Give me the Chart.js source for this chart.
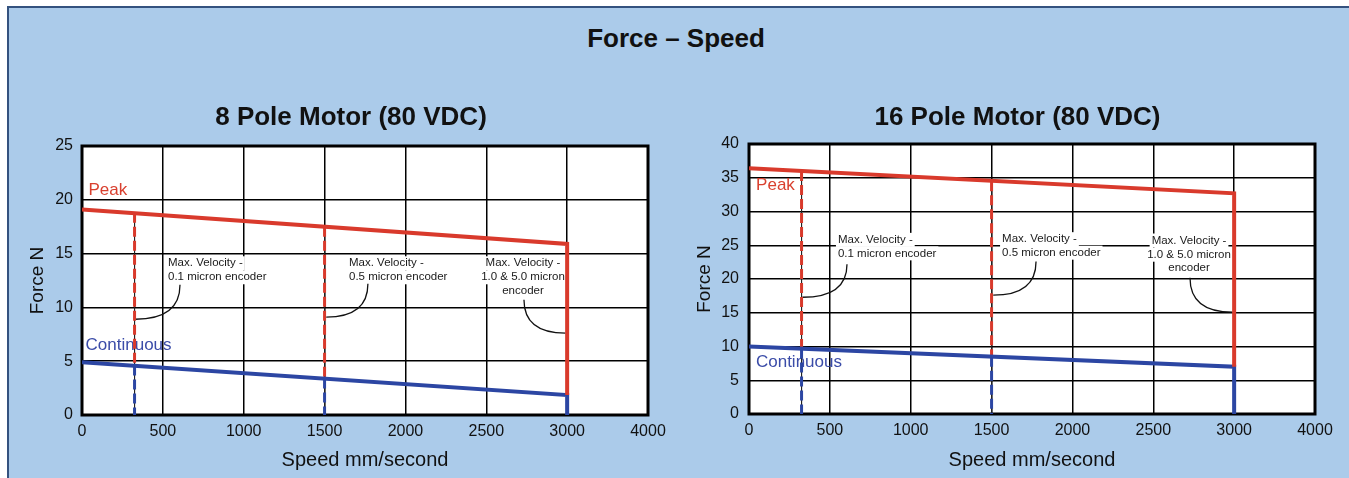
<!DOCTYPE html>
<html>
<head>
<meta charset="utf-8">
<script src="https://cdn.jsdelivr.net/npm/chart.js@4.4.1/dist/chart.umd.min.js"></script>
<style>
  html, body { margin: 0; padding: 0; background: #ffffff; width: 1349px; height: 478px; overflow: hidden; }
  #frame { position: absolute; left: 7px; top: 6px; width: 1342px; height: 472px; box-sizing: border-box;
           background: #abcbea; border-left: 2px solid #34527f; border-top: 2px solid #34527f; }
  #mainTitle { position: absolute; left: 0; width: 1352px; top: 23px; line-height: 30px; text-align: center;
               font: bold 26px "Liberation Sans", Arial, sans-serif; color: #111; }
  canvas { position: absolute; }
  #c8 { left: 0px; top: 90px; }
  #c16 { left: 668px; top: 90px; }
</style>
</head>
<body>
<div id="frame"></div>
<div id="mainTitle">Force – Speed</div>
<canvas id="c8" width="680" height="388"></canvas>
<canvas id="c16" width="681" height="388"></canvas>
<script>
// ---------- data ----------
const speedTickLabels = ['0', '500', '1000', '1500', '2000', '2500', '3000', '4000'];
const lineSpeeds = [0, 3000];                 // start / end of force curves (mm/s)
const limitSpeeds = [325, 1500, 3000];        // max velocity for 0.1, 0.5, 1.0&5.0 micron encoders
const pole8Peak = [19.1, 15.9];
const pole8Continuous = [4.9, 1.85];
const pole8PeakAtLimit = [18.8, 17.5];
const pole8ContAtLimit = [4.6, 3.4];
const pole16Peak = [36.4, 32.7];
const pole16Continuous = [10.0, 7.0];
const pole16PeakAtLimit = [36.0, 34.5];
const pole16ContAtLimit = [9.7, 8.5];
const encoderNotes = [
  ['Max. Velocity -', '0.1 micron encoder'],
  ['Max. Velocity -', '0.5 micron encoder'],
  ['Max. Velocity -', '1.0 & 5.0 micron', 'encoder']
];

const RED = '#d93a2c';
const BLUE = '#2c46a3';
const FONT = '"Liberation Sans", Arial, sans-serif';

function seg(x1, y1, x2, y2) { return [{x: x1, y: y1}, {x: x2, y: y2}]; }

function buildDatasets(peak, cont, peakAt, contAt) {
  const ds = [];
  ds.push({ label: 'Peak', data: [{x: lineSpeeds[0], y: peak[0]}, {x: lineSpeeds[1], y: peak[1]}, {x: limitSpeeds[2], y: cont[1]}],
            borderColor: RED, borderWidth: 4, pointRadius: 0, borderJoinStyle: 'miter' });
  ds.push({ label: 'Continuous', data: [{x: lineSpeeds[0], y: cont[0]}, {x: lineSpeeds[1], y: cont[1]}, {x: limitSpeeds[2], y: 0}],
            borderColor: BLUE, borderWidth: 4, pointRadius: 0, borderJoinStyle: 'miter' });
  for (let i = 0; i < 2; i++) {
    ds.push({ label: 'peak limit ' + i, data: seg(limitSpeeds[i], peakAt[i], limitSpeeds[i], contAt[i]),
              borderColor: RED, borderWidth: 3, borderDash: [10, 4], pointRadius: 0 });
    ds.push({ label: 'cont limit ' + i, data: seg(limitSpeeds[i], contAt[i], limitSpeeds[i], 0),
              borderColor: BLUE, borderWidth: 3, borderDash: [10, 4], pointRadius: 0 });
    ds.push({ label: 'guide ' + i, data: seg(limitSpeeds[i], peakAt[i], limitSpeeds[i], 0),
              borderColor: '#222', borderWidth: 1, pointRadius: 0 });
  }
  return ds;
}

function makeDecor(cfg) {
  return {
    id: 'decor',
    beforeDraw(chart) {
      const {ctx, chartArea: a} = chart;
      ctx.save();
      ctx.fillStyle = '#ffffff';
      ctx.fillRect(a.left, a.top, a.width, a.height);
      ctx.restore();
    },
    beforeDatasetsDraw(chart) {
      const {ctx, chartArea: a, scales: {x, y}} = chart;
      ctx.save();
      ctx.lineWidth = 3;
      ctx.strokeStyle = '#000';
      ctx.strokeRect(a.left, a.top, a.width, a.height);
      // series labels
      ctx.textBaseline = 'middle';
      ctx.textAlign = 'left';
      ctx.font = '17px ' + FONT;
      cfg.labels.forEach(l => {
        ctx.fillStyle = l.color;
        ctx.fillText(l.text, x.getPixelForValue(l.x), y.getPixelForValue(l.y));
      });
      // encoder notes
      ctx.font = '11.5px ' + FONT;
      cfg.notes.forEach(n => {
        const px = x.getPixelForValue(n.x);
        n.lines.forEach((t, k) => {
          const py = y.getPixelForValue(n.ys[k]);
          const w = ctx.measureText(t).width;
          const x0 = n.align === 'center' ? px - w / 2 : px;
          ctx.fillStyle = '#ffffff';
          ctx.fillRect(x0 - 2, py - 7, w + 4, 14);
          ctx.fillStyle = '#1a1a1a';
          ctx.fillText(t, x0, py);
        });
        const fx = x.getPixelForValue(n.from[0]), fy = y.getPixelForValue(n.from[1]);
        const tx = x.getPixelForValue(n.to[0]), ty = y.getPixelForValue(n.to[1]);
        ctx.beginPath();
        ctx.moveTo(fx, fy);
        ctx.quadraticCurveTo(fx, ty, tx, ty);
        ctx.lineWidth = 1.3;
        ctx.strokeStyle = '#111';
        ctx.stroke();
      });
      ctx.restore();
    }
  };
}

function makeChart(id, o) {
  const canvas = document.getElementById(id);
  return new Chart(canvas, {
    type: 'line',
    data: { datasets: buildDatasets(o.peak, o.cont, o.peakAt, o.contAt) },
    options: {
      responsive: false,
      maintainAspectRatio: false,
      animation: false,
      events: [],
      layout: { padding: { left: o.padLeft, right: o.padRight, top: 0, bottom: 0 } },
      plugins: {
        legend: { display: false },
        tooltip: { enabled: false },
        title: {
          display: true, text: o.title, color: '#111',
          font: { family: FONT, size: 26, weight: 'bold' },
          padding: { top: o.titleTop, bottom: o.titleBottom }
        }
      },
      scales: {
        x: {
          type: 'linear', min: 0, max: 3500,
          afterFit(s) { s.height = o.xHeight; },
          border: { display: false },
          grid: { color: '#000', lineWidth: 1.5, drawTicks: false },
          ticks: { stepSize: 500, padding: 7, color: '#111', font: { family: FONT, size: 16 },
                   maxRotation: 0, autoSkip: false,
                   callback: (v, i) => speedTickLabels[i] },
          title: { display: true, text: 'Speed mm/second', color: '#111',
                   font: { family: FONT, size: 20 }, padding: { top: 0, bottom: 6 } }
        },
        y: {
          type: 'linear', min: 0, max: o.yMax,
          afterFit(s) { s.width = o.yWidth; },
          border: { display: false },
          grid: { color: '#000', lineWidth: 1.5, drawTicks: false },
          ticks: { stepSize: 5, padding: o.yTickPad, color: '#111', font: { family: FONT, size: 16 } },
          title: { display: true, text: 'Force N', color: '#111',
                   font: { family: FONT, size: 19 }, padding: { top: o.yTitlePad, bottom: 0 } }
        }
      }
    },
    plugins: [makeDecor(o.decor)]
  });
}

makeChart('c8', {
  title: '8 Pole Motor (80 VDC)',
  peak: pole8Peak, cont: pole8Continuous, peakAt: pole8PeakAtLimit, contAt: pole8ContAtLimit,
  yMax: 25, padLeft: 54, padRight: 32, yWidth: 28, xHeight: 63, yTickPad: 9, yTitlePad: -27.4,
  titleTop: 12.4, titleBottom: 12.4,
  decor: {
    labels: [
      { text: 'Peak', color: '#d9402f', x: 40, y: 20.9 },
      { text: 'Continuous', color: '#3b4ca8', x: 22, y: 6.5 }
    ],
    notes: [
      { lines: encoderNotes[0], align: 'left', x: 532, ys: [14.1, 12.8], from: [606, 12.1], to: [330, 8.9] },
      { lines: encoderNotes[1], align: 'left', x: 1651, ys: [14.1, 12.8], from: [1768, 12.2], to: [1510, 9.1] },
      { lines: encoderNotes[2], align: 'center', x: 2727, ys: [14.1, 12.8, 11.5], from: [2733, 10.7], to: [2990, 7.6] }
    ]
  }
});

makeChart('c16', {
  title: '16 Pole Motor (80 VDC)',
  peak: pole16Peak, cont: pole16Continuous, peakAt: pole16PeakAtLimit, contAt: pole16ContAtLimit,
  yMax: 40, padLeft: 52, padRight: 34, yWidth: 29, xHeight: 64, yTickPad: 10, yTitlePad: -26.4,
  titleTop: 12.4, titleBottom: 10.4,
  decor: {
    labels: [
      { text: 'Peak', color: '#d9402f', x: 44, y: 33.9 },
      { text: 'Continuous', color: '#3b4ca8', x: 43, y: 7.6 }
    ],
    notes: [
      { lines: encoderNotes[0], align: 'left', x: 550, ys: [25.8, 23.8], from: [606, 22.2], to: [330, 17.3] },
      { lines: encoderNotes[1], align: 'left', x: 1565, ys: [25.9, 23.9], from: [1775, 22.6], to: [1510, 17.6] },
      { lines: encoderNotes[2], align: 'center', x: 2721, ys: [25.7, 23.6, 21.7], from: [2727, 20.2], to: [2990, 15.1] }
    ]
  }
});
</script>
</body>
</html>
